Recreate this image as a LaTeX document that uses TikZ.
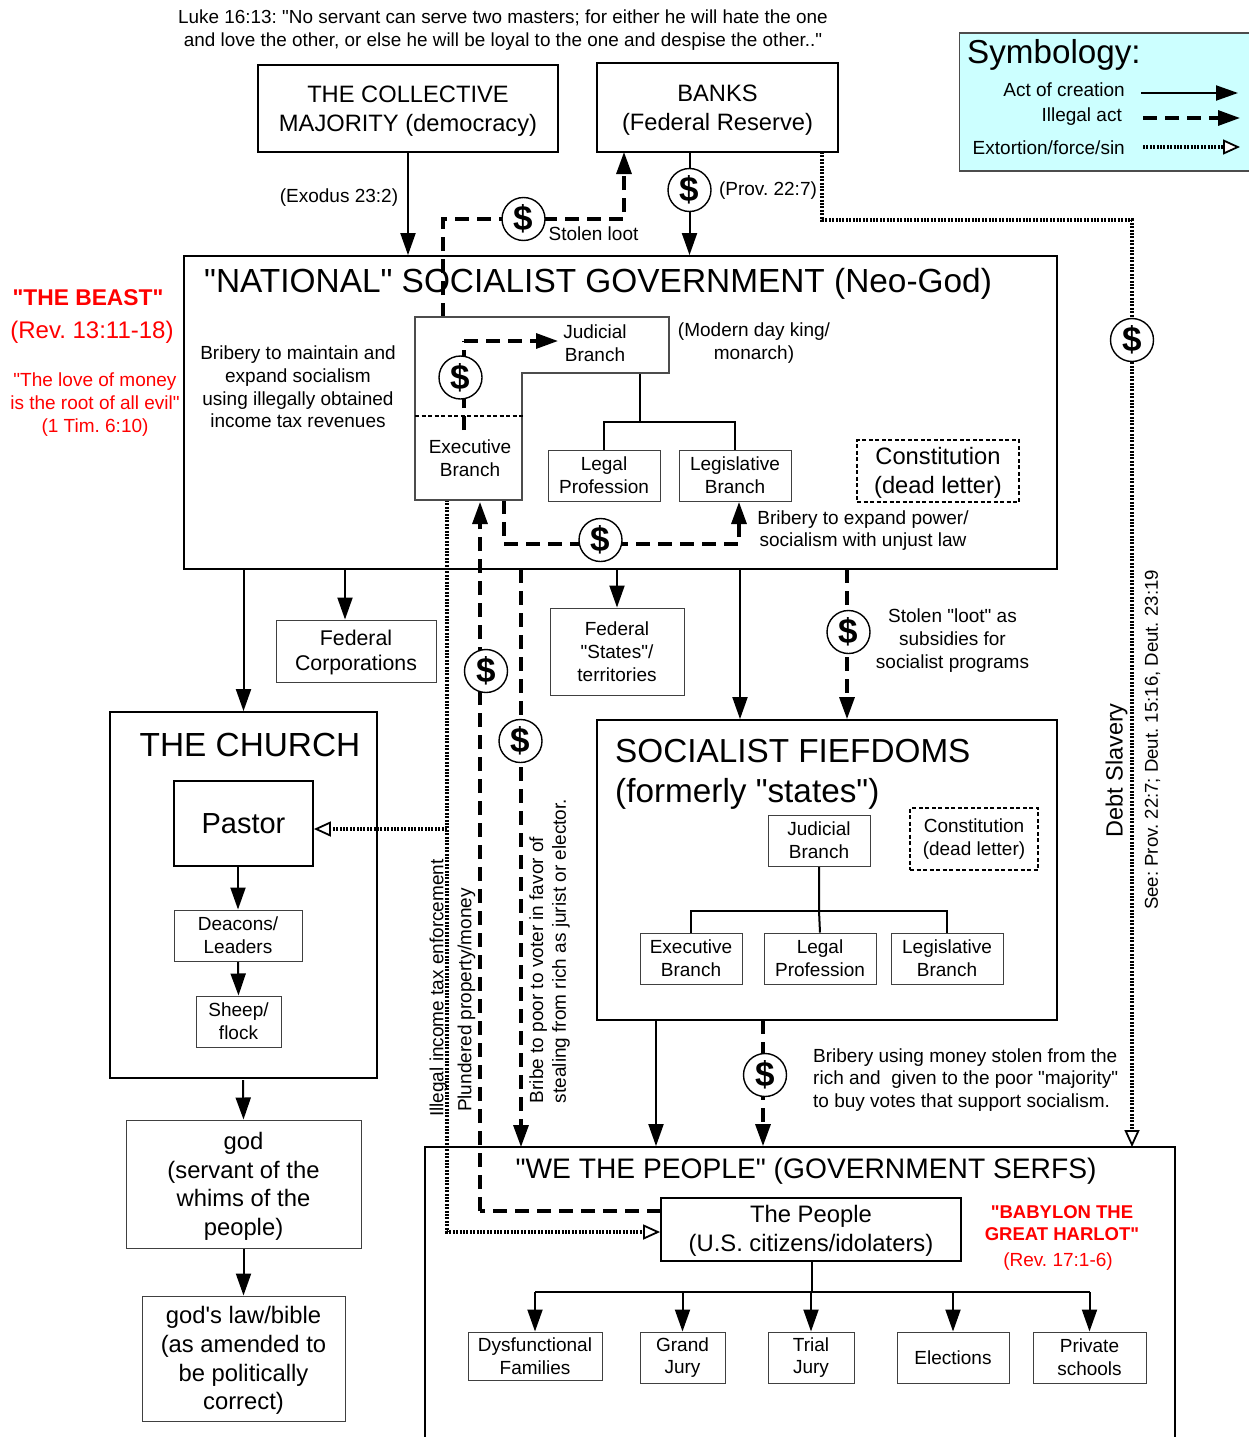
\documentclass[tikz,border=0pt]{standalone}
\usepackage{fontspec}
\newfontfamily\diagramfont{Liberation Sans}
\usetikzlibrary{arrows.meta}
\usetikzlibrary{backgrounds}
\definecolor{symbolcyan}{HTML}{CCFFFF}
\frenchspacing
\newcommand{\fsize}[1]{\diagramfont\fontsize{#1}{\the\dimexpr#1pt*12/10\relax}\selectfont}
\newcommand{\pushby}[1]{\rule{0pt}{#1}}
\tikzstyle{arrow} = [line width=2pt,-{Triangle[length=22pt,width=15pt]}]
\tikzstyle{plainline} = [line width=2pt]
\tikzstyle{illegal} = [line width=3.2pt,dash pattern=on 14pt off 8pt]
\tikzstyle{illegalarrow} = [illegal,-{Triangle[length=22pt,width=15pt]}]
\tikzstyle{force} = [line width=3.2pt,dash pattern=on 2pt off 1.4pt]
\tikzstyle{forcearrow} = [force,-{Triangle[open,fill=white,length=17pt,width=15pt,line width=1.8pt]}]
\tikzstyle{mainbox} = [rectangle, draw=black, line width=1.8pt, inner sep=0pt, align=center]
\tikzstyle{smallbox} = [rectangle, draw=black!75, line width=1pt, inner sep=0pt, align=center, font=\fsize{19}]
\tikzstyle{deadbox} = [rectangle, draw=black, line width=1.2pt, dash pattern=on 4pt off 2.5pt, inner sep=0pt, align=center, font=\fsize{19}]
\tikzstyle{dollar} = [circle, draw=black, fill=white, line width=1.4pt, minimum size=43pt, inner sep=0pt, font=\bfseries\fsize{35}]
\tikzstyle{caption} = [inner sep=0pt, align=center, font=\fsize{19}, yshift=-1.5pt]
\tikzstyle{redcaption} = [caption, text=red]

\begin{document}
\begin{tikzpicture}[x=1pt,y=-1pt]
\useasboundingbox (0,0) rectangle (1249,1437);

\node (luke) [caption, font=\fsize{18.9}] at (503,28.5) {Luke 16:13: "No servant can serve two masters; for either he will hate the one\\and love the other, or else he will be loyal to the one and despise the other.."};

\node (symbology) [rectangle, draw=black!70, line width=1.2pt, fill=symbolcyan, minimum width=301, minimum height=138] at (1110,102) {};
\node (symboltitle) [caption, anchor=west, font=\fsize{33.2}] at (967,53.5) {Symbology:};
\node (creationtext) [caption, anchor=east] at (1125,88) {Act of creation};
\node (illegaltext) [caption, anchor=east] at (1122,115) {Illegal act};
\node (forcetext) [caption, anchor=east] at (1125,146) {Extortion/force/sin};
\coordinate (creationa) at (1141,93);
\coordinate (creationb) at (1238,93);
\coordinate (illegala) at (1143,118);
\coordinate (illegalb) at (1240,118);
\coordinate (forcea) at (1143,147);
\coordinate (forceb) at (1240,147);
\draw [arrow] (creationa) -- (creationb);
\draw [illegalarrow] (illegala) -- (illegalb);
\draw [forcearrow] (forcea) -- (forceb);

\node (collective) [mainbox, minimum width=300, minimum height=87, font=\fsize{23.7}] at (408,108.5) {\pushby{22pt}THE COLLECTIVE\\MAJORITY (democracy)};
\node (banks) [mainbox, minimum width=241, minimum height=89, font=\fsize{23.7}] at (717.5,107.5) {\pushby{22pt}BANKS\\(Federal Reserve)};
\node (exodus) [caption] at (339,196) {(Exodus 23:2)};
\node (stolen) [caption] at (593.5,232) {Stolen loot};
\node (prov) [caption] at (768,189) {(Prov. 22:7)};

\node (gov) [mainbox, minimum width=873, minimum height=313] at (620.5,412.5) {};
\node (govtitle) [caption, anchor=west, font=\fsize{33.4}] at (204,282.5) {"NATIONAL" SOCIALIST GOVERNMENT (Neo-God)};
\node (bribeleft) [caption] at (298,385.5) {Bribery to maintain and\\expand socialism\\using illegally obtained\\income tax revenues};
\node (king) [caption] at (754,341.5) {(Modern day king/\\monarch)};
\node (judicial) [caption] at (595,342) {Judicial\\Branch};
\node (executive) [caption] at (470,457) {Executive\\Branch};
\draw [draw=black!70, line width=1.2pt] (415,317) -- (669,317) -- (669,373) -- (522,373) -- (522,500) -- (415,500) -- cycle;
\draw [line width=1.4pt, dash pattern=on 4pt off 2.5pt] (415,416) -- (523,416);
\node (legal) [smallbox, minimum width=112, minimum height=51] at (604,475.5) {Legal\\Profession};
\node (legislative) [smallbox, minimum width=112, minimum height=51] at (735,475.5) {Legislative\\Branch};
\node (constitution) [deadbox, minimum width=162, minimum height=62, font=\fsize{23.7}] at (938,471) {\pushby{20.5pt}Constitution\\(dead letter)};
\node (bribepower) [caption] at (863,529) {Bribery to expand power/\\socialism with unjust law};

\node (beast) [redcaption, font=\bfseries\fsize{22.8}] at (88,296.5) {"THE BEAST"};
\node (rev) [redcaption, font=\fsize{24}] at (92,331) {(Rev. 13:11-18)};
\node (love) [redcaption] at (95,403) {"The love of money\\is the root of all evil"\\(1 Tim. 6:10)};

\node (corporations) [smallbox, minimum width=160, minimum height=62, font=\fsize{21.3}] at (356,651) {\pushby{18.5pt}Federal\\Corporations};
\node (states) [smallbox, minimum width=134, minimum height=87] at (617,651.5) {Federal\\"States"/\\territories};
\node (subsidies) [caption] at (952.5,639) {Stolen "loot" as\\subsidies for\\socialist programs};

\node (church) [mainbox, minimum width=267, minimum height=366] at (243.5,895) {};
\node (churchtitle) [caption, font=\fsize{33.4}] at (250,743.5) {THE CHURCH};
\node (pastor) [mainbox, minimum width=139, minimum height=85, font=\fsize{29}] at (243.5,823.5) {Pastor};
\node (deacons) [smallbox, minimum width=128, minimum height=51] at (238,935.5) {Deacons/\\Leaders};
\node (sheep) [smallbox, minimum width=85, minimum height=51] at (238.5,1021.5) {Sheep/\\flock};
\node (god) [smallbox, minimum width=235, minimum height=128, font=\fsize{23.8}] at (243.5,1184) {\pushby{21.5pt}god\\(servant of the\\whims of the\\people)};
\node (bible) [smallbox, minimum width=203, minimum height=125, font=\fsize{23.8}] at (243.5,1358.5) {\pushby{21.5pt}god's law/bible\\(as amended to\\be politically\\correct)};

\node (fiefdoms) [mainbox, minimum width=460, minimum height=300] at (827,870) {};
\node (fieftitle) [caption, anchor=west, align=left, font=\fsize{33.3}] at (615,772.5) {SOCIALIST FIEFDOMS\\(formerly "states")};
\node (fiefjudicial) [smallbox, minimum width=102, minimum height=51] at (819,840.5) {Judicial\\Branch};
\node (fiefconstitution) [deadbox, minimum width=128, minimum height=62] at (974,839) {Constitution\\(dead letter)};
\node (fiefexecutive) [smallbox, minimum width=102, minimum height=51] at (691,958.5) {Executive\\Branch};
\node (fieflegal) [smallbox, minimum width=112, minimum height=51] at (820,958.5) {Legal\\Profession};
\node (fieflegislative) [smallbox, minimum width=112, minimum height=51] at (947,958.5) {Legislative\\Branch};
\node (bribevotes) [caption, anchor=west, align=left] at (813,1078.5) {Bribery using money stolen from the\\rich and\ \ given to the poor "majority"\\to buy votes that support socialism.};

\node (debt) [caption, rotate=90, font=\fsize{23.5}] at (1116.5,769) {Debt Slavery};
\node (see) [caption, rotate=90, font=\fsize{18.6}] at (1152.5,738.5) {See: Prov. 22:7; Deut. 15:16, Deut. 23:19};
\node (taxtext) [caption, rotate=90] at (438.5,986.5) {Illegal income tax enforcement};
\node (plundertext) [caption, rotate=90] at (466.5,998.5) {Plundered property/money};
\node (bribetext) [caption, rotate=90, align=left] at (549.5,949.5) {Bribe to poor to voter in favor of\\stealing from rich as jurist or elector.};

\node (people) [mainbox, minimum width=750, minimum height=313] at (800,1303.5) {};
\node (peopletitle) [caption, font=\fsize{28.2}] at (806,1169.5) {"WE THE PEOPLE" (GOVERNMENT SERFS)};
\node (citizens) [mainbox, minimum width=300, minimum height=63, font=\fsize{23.8}] at (811,1229.5) {\pushby{19.5pt}The People\\(U.S. citizens/idolaters)};
\node (babylon) [redcaption, font=\bfseries\fsize{18.5}] at (1062,1221.5) {"BABYLON THE\\GREAT HARLOT"};
\node (revharlot) [redcaption] at (1058,1260) {(Rev. 17:1-6)};
\node (families) [smallbox, minimum width=134, minimum height=48] at (535,1356) {Dysfunctional\\Families};
\node (grand) [smallbox, minimum width=85, minimum height=51] at (682.5,1357.5) {Grand\\Jury};
\node (trial) [smallbox, minimum width=86, minimum height=51] at (811,1357.5) {Trial\\Jury};
\node (elections) [smallbox, minimum width=112, minimum height=51] at (953,1357.5) {Elections};
\node (schools) [smallbox, minimum width=113, minimum height=51] at (1089.5,1357.5) {Private\\schools};

\node (dollarloot) [dollar] at (523.5,219) {\$};
\node (dollarbanks) [dollar] at (689.5,190) {\$};
\node (dollarexec) [dollar] at (460.5,377.5) {\$};
\node (dollarlaw) [dollar] at (600.5,540) {\$};
\node (dollarplunder) [dollar] at (486,671) {\$};
\node (dollarvoter) [dollar] at (520.5,741) {\$};
\node (dollarstates) [dollar] at (848.5,632) {\$};
\node (dollardebt) [dollar] at (1132,340) {\$};
\node (dollarfief) [dollar] at (765,1075) {\$};

\coordinate (lootstart) at (443,317);
\coordinate (lootbend) at (443,219);
\coordinate (loottip) at (624,152);
\coordinate (execstart) at (464,430);
\coordinate (execbend) at (464,341);
\coordinate (exectip) at (558,341);
\coordinate (lawstart) at (504,500);
\coordinate (lawbend) at (504,544);
\coordinate (lawtip) at (739,502);
\coordinate (debtstart) at (822,152);
\coordinate (debtbend) at (822,220);
\coordinate (debttip) at (1132,1147);
\coordinate (taxstart) at (447,500);
\coordinate (taxbend) at (447,1232);
\coordinate (taxbranch) at (447,829);
\coordinate (plunderstart) at (661,1211);
\coordinate (plunderbend) at (480,1211);
\coordinate (plundertip) at (480,502);
\coordinate (churchout) at (243,1080);
\coordinate (judicialout) at (640,373);
\coordinate (judicialjoin) at (640,422);
\coordinate (fiefjoin) at (819,911);
\coordinate (citizensout) at (812,1261);
\coordinate (citizensjoin) at (812,1292);
\coordinate (voterstart) at (521,569);
\coordinate (votertip) at (521,1147);
\coordinate (corpin) at (345,569);
\coordinate (fiefin) at (740,569);
\coordinate (subsidyin) at (847,569);
\coordinate (pastorout) at (238,866);
\coordinate (fiefout) at (656,1020);
\coordinate (votesout) at (763,1020);

\begin{scope}[on background layer]
\draw [arrow] (collective) -- (collective |- gov.north);
\draw [arrow] (dollarbanks |- banks.south) -- (dollarbanks |- gov.north);
\draw [illegalarrow] (lootstart) -- (lootbend) -| (loottip);
\draw [forcearrow] (debtstart) -- (debtbend) -| (debttip);

\draw [illegal] (execstart) -- (execbend);
\draw [illegalarrow] (execbend) -- (exectip);
\draw [plainline] (judicialout) -- (judicialjoin);
\draw [plainline] (legal.north) |- (judicialjoin) -| (legislative.north);
\draw [illegalarrow] (lawstart) -- (lawbend) -| (lawtip);

\draw [forcearrow] (taxstart) -- (taxbend) -- (citizens.west |- taxbend);
\draw [forcearrow] (taxbranch) -- (pastor.east |- taxbranch);
\draw [illegal] (plunderstart) -- (plunderbend);
\draw [illegalarrow] (plunderbend) -- (plundertip);
\draw [illegalarrow] (voterstart) -- (votertip);

\draw [arrow] (church.north |- gov.south) -- (church.north);
\draw [arrow] (corpin) -- (corpin |- corporations.north);
\draw [arrow] (states.north |- gov.south) -- (states.north);
\draw [arrow] (fiefin) -- (fiefin |- fiefdoms.north);
\draw [illegalarrow] (subsidyin) -- (subsidyin |- fiefdoms.north);

\draw [arrow] (pastorout) -- (deacons.north);
\draw [arrow] (deacons.south) -- (sheep.north);
\draw [arrow] (churchout) -- (god.north);
\draw [arrow] (god.south) -- (bible.north);

\draw [plainline] (fiefjudicial.south) -- (fiefjoin) -- (fieflegal.north);
\draw [plainline] (fiefexecutive.north) |- (fiefjoin) -| (fieflegislative.north);
\draw [arrow] (fiefout) -- (fiefout |- people.north);
\draw [illegalarrow] (votesout) -- (votesout |- people.north);

\draw [plainline] (citizensout) -- (citizensjoin);
\draw [plainline] (families.north |- citizensjoin) -- (schools.north |- citizensjoin);
\foreach \member in {families,grand,trial,elections,schools}
    \draw [arrow] (\member.north |- citizensjoin) -- (\member.north);
\end{scope}
\end{tikzpicture}
\end{document}
